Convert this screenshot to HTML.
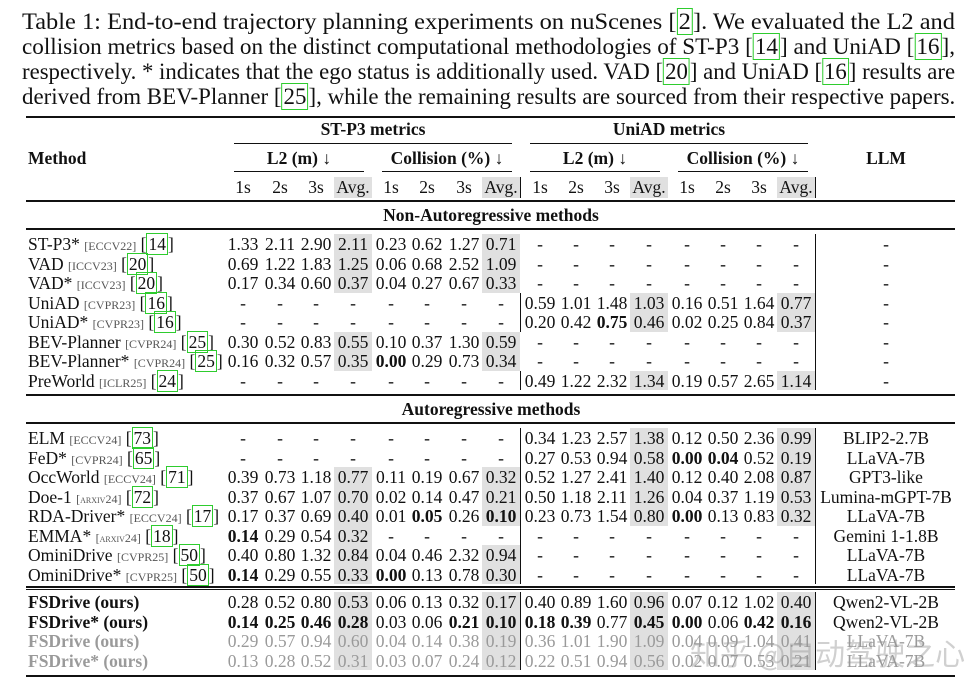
<!DOCTYPE html>
<html><head><meta charset="utf-8">
<style>
html,body{margin:0;padding:0;background:#fff;}
body{width:974px;height:686px;position:relative;overflow:hidden;font-family:"Liberation Serif",serif;color:#111;}
.cap{position:absolute;left:22px;font-size:23px;line-height:25px;white-space:nowrap;transform-origin:0 0;}
.ref{border:1.5px solid #2ecc2e;padding:0 1px;}
.ab{position:absolute;white-space:nowrap;}
.rule{position:absolute;background:#111;}
.c{position:absolute;width:40px;text-align:center;font-size:17.5px;line-height:20px;}
.sh{position:absolute;background:#e0e0e0;}
.b{font-weight:bold;}
.ven{font-size:12px;color:#555;font-variant:small-caps;}
.g{color:#9a9a9a;}
</style></head><body>
<div class="cap" style="top:9px">Table 1: End-to-end trajectory planning experiments on nuScenes [<span class="ref">2</span>]. We evaluated the L2 and</div>
<div class="cap" style="top:34px">collision metrics based on the distinct computational methodologies of ST-P3 [<span class="ref">14</span>] and UniAD [<span class="ref">16</span>],</div>
<div class="cap" style="top:59px">respectively. * indicates that the ego status is additionally used. VAD [<span class="ref">20</span>] and UniAD [<span class="ref">16</span>] results are</div>
<div class="cap" style="top:84px">derived from BEV-Planner [<span class="ref">25</span>], while the remaining results are sourced from their respective papers.</div>
<div id="t"></div>
<div class="ab" style="left:690px;top:630px;font-size:30px;color:rgba(150,150,150,0.45);font-family:'Noto Sans CJK SC',sans-serif">知乎 @自动驾驶之心</div>
<script>
document.querySelectorAll('.cap').forEach(c=>{const w=c.scrollWidth;c.style.transform=`scaleX(${933/w})`;});
const names=["ST-P3*","VAD","VAD*","UniAD","UniAD*","BEV-Planner","BEV-Planner*","PreWorld","ELM","FeD*","OccWorld","Doe-1","RDA-Driver*","EMMA*","OminiDrive","OminiDrive*","FSDrive (ours)","FSDrive* (ours)","FSDrive (ours)","FSDrive* (ours)"];
const venues=["ECCV22","ICCV23","ICCV23","CVPR23","CVPR23","CVPR24","CVPR24","ICLR25","ECCV24","CVPR24","ECCV24","arxiv24","ECCV24","arxiv24","CVPR25","CVPR25","","","",""];
const refs=["14","20","20","16","16","25","25","24","73","65","71","72","17","18","50","50","","","",""];
const D="- - - - - - - -";
const stp3=["1.33 2.11 2.90 2.11 0.23 0.62 1.27 0.71","0.69 1.22 1.83 1.25 0.06 0.68 2.52 1.09","0.17 0.34 0.60 0.37 0.04 0.27 0.67 0.33",D,D,"0.30 0.52 0.83 0.55 0.10 0.37 1.30 0.59","0.16 0.32 0.57 0.35 *0.00 0.29 0.73 0.34",D,D,D,"0.39 0.73 1.18 0.77 0.11 0.19 0.67 0.32","0.37 0.67 1.07 0.70 0.02 0.14 0.47 0.21","0.17 0.37 0.69 0.40 0.01 *0.05 0.26 *0.10","*0.14 0.29 0.54 0.32 - - - -","0.40 0.80 1.32 0.84 0.04 0.46 2.32 0.94","*0.14 0.29 0.55 0.33 *0.00 0.13 0.78 0.30","0.28 0.52 0.80 0.53 0.06 0.13 0.32 0.17","*0.14 *0.25 *0.46 *0.28 0.03 0.06 *0.21 *0.10","0.29 0.57 0.94 0.60 0.04 0.14 0.38 0.19","0.13 0.28 0.52 0.31 0.03 0.07 0.24 0.12"];
const uniad=[D,D,D,"0.59 1.01 1.48 1.03 0.16 0.51 1.64 0.77","0.20 0.42 *0.75 0.46 0.02 0.25 0.84 0.37",D,D,"0.49 1.22 2.32 1.34 0.19 0.57 2.65 1.14","0.34 1.23 2.57 1.38 0.12 0.50 2.36 0.99","0.27 0.53 0.94 0.58 *0.00 *0.04 0.52 0.19","0.52 1.27 2.41 1.40 0.12 0.40 2.08 0.87","0.50 1.18 2.11 1.26 0.04 0.37 1.19 0.53","0.23 0.73 1.54 0.80 *0.00 0.13 0.83 0.32",D,D,D,"0.40 0.89 1.60 0.96 0.07 0.12 1.02 0.40","*0.18 *0.39 0.77 *0.45 *0.00 0.06 *0.42 *0.16","0.36 1.01 1.90 1.09 0.04 0.09 1.04 0.41","0.22 0.51 0.94 0.56 0.02 0.07 0.53 0.21"];
const llm=["-","-","-","-","-","-","-","-","BLIP2-2.7B","LLaVA-7B","GPT3-like","Lumina-mGPT-7B","LLaVA-7B","Gemini 1-1.8B","LLaVA-7B","LLaVA-7B","Qwen2-VL-2B","Qwen2-VL-2B","LLaVA-7B","LLaVA-7B"];
const rowY=[234,253.5,273,292.5,312,331.5,351,370.5,428,447.5,467,486.5,506,525.5,545,564.5,592,611.5,631,650.5];
const colX=[243,280,316,353,391,427,464,501,540,576,612,649,687,723,759,796];
const T=document.getElementById('t');
function add(html,cls,css){const e=document.createElement('div');e.className=cls;e.style.cssText=css;e.innerHTML=html;T.appendChild(e);return e;}
function rule(x,y,w,h){const e=add('','rule',`left:${x}px;top:${y}px;width:${w}px;height:${h}px`);

}
rule(26,116,929,2);rule(26,200,929,1.5);rule(26,228,929,1.5);rule(26,394,929,1.5);rule(26,422,929,1.5);rule(26,586,929,1.5);rule(26,589,929,1);rule(26,675,929,2);
rule(234,143,278,1);rule(530,143,278,1);rule(234,171,130,1);rule(382,171,130,1);rule(530,171,130,1);rule(678,171,130,1);
const hdr=[["ST-P3 metrics",373,119,'st-p3-metrics-header'],["UniAD metrics",669,119,'uniad-metrics-header'],["L2 (m) ↓",299,148,'st-l2-header'],["Collision (%) ↓",447,148,'st-collision-header'],["L2 (m) ↓",595,148,'uniad-l2-header'],["Collision (%) ↓",743,148,'uniad-collision-header'],["LLM",886,148,'llm-header'],["Non-Autoregressive methods",491,205,'non-autoregressive-section'],["Autoregressive methods",491,399,'autoregressive-section']];
hdr.forEach(h=>{const e=add(h[0],'ab b',`left:${h[1]-150}px;width:300px;text-align:center;top:${h[2]}px;font-size:17.5px;line-height:20px`);

});
const m=add('Method','ab b',`left:28px;top:148px;font-size:17.5px;line-height:20px`);


const subs=["1s","2s","3s","Avg."];
colX.forEach((x,i)=>{if(i%4==3){const s=add('','sh',`left:${x-19}px;top:177px;width:38px;height:21px`);

}
const e=add(subs[i%4],'c',`left:${x-20}px;top:177px`);

});
rule(520,177,1,21);rule(815,177,1,21);
names.forEach((n,r)=>{const y=rowY[r];const gray=r>=18;const bold=r>=16;
let h=`<span class="${bold?'b':''}">${n}</span>`;
if(venues[r])h+=` <span class="ven">[${venues[r]}]</span> [<span class="ref">${refs[r]}</span>]`;
const e=add(h,'ab'+(gray?' g':''),`left:28px;top:${y}px;font-size:17.5px;line-height:20px`);


const vals=stp3[r].split(' ').concat(uniad[r].split(' '));
vals.forEach((v,i)=>{const x=colX[i];
if(i%4==3&&v!='-'){const s=add('','sh',`left:${x-19}px;top:${y}px;width:38px;height:19.5px`);

}
const b=v[0]=='*';const t=b?v.slice(1):v;
const c=add(t,'c'+(b?' b':'')+(gray?' g':''),`left:${x-20}px;top:${y}px`);

});
if(uniad[r]!=D||r>=8)rule(520,y,1,19.5);
rule(815,y,1,19.5);
const l=add(llm[r],'ab'+(gray?' g':''),`left:816px;width:140px;text-align:center;top:${y}px;font-size:17.5px;line-height:20px`);

});
</script>
</body></html>
